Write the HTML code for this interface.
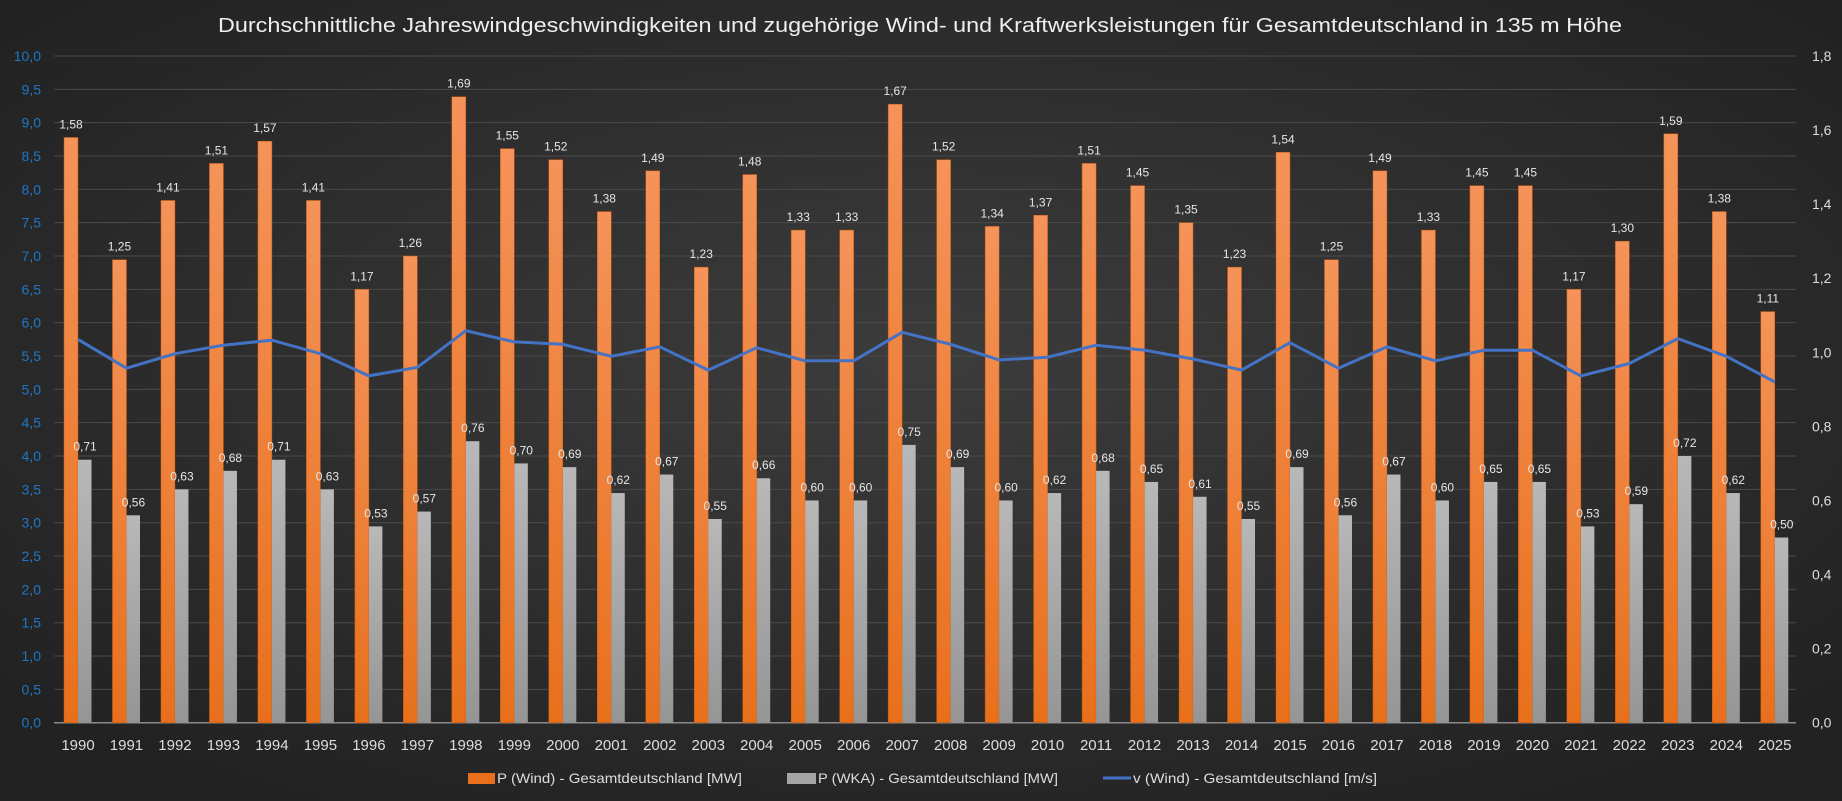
<!DOCTYPE html>
<html><head><meta charset="utf-8"><style>
html,body{margin:0;padding:0;background:#2a2a2a;}
svg{display:block;font-family:"Liberation Sans",sans-serif;}
</style></head><body>
<svg id="c" width="1842" height="801" xmlns="http://www.w3.org/2000/svg">
<defs>
<radialGradient id="bg" cx="50%" cy="45%" r="65%">
<stop offset="0" stop-color="#3c3c3c"/><stop offset="1" stop-color="#222"/>
</radialGradient>
<linearGradient id="og" x1="0" y1="0" x2="0" y2="1"><stop offset="0" stop-color="#f4935a"/><stop offset="1" stop-color="#e8701c"/></linearGradient>
<linearGradient id="gg" x1="0" y1="0" x2="0" y2="1"><stop offset="0" stop-color="#b8b8b8"/><stop offset="1" stop-color="#959595"/></linearGradient>
</defs>
<rect width="1842" height="801" fill="url(#bg)"/>
<g id="g"></g>
</svg>
<script>
const P=[1.58,1.25,1.41,1.51,1.57,1.41,1.17,1.26,1.69,1.55,1.52,1.38,1.49,1.23,1.48,1.33,1.33,1.67,1.52,1.34,1.37,1.51,1.45,1.35,1.23,1.54,1.25,1.49,1.33,1.45,1.45,1.17,1.30,1.59,1.38,1.11];
const W=[0.71,0.56,0.63,0.68,0.71,0.63,0.53,0.57,0.76,0.70,0.69,0.62,0.67,0.55,0.66,0.60,0.60,0.75,0.69,0.60,0.62,0.68,0.65,0.61,0.55,0.69,0.56,0.67,0.60,0.65,0.65,0.53,0.59,0.72,0.62,0.50];
const y0=722.7,u=66.67,L=54,R=1796,st=48.48;
let s='';
const f=v=>v.toFixed(2).replace('.',',');
for(let i=0;i<=20;i++){const y=y0-i*0.5*u;
 s+=`<line x1="${L}" x2="${R}" y1="${y}" y2="${y}" stroke="${i?'#4a4a4a':'#8a8a8a'}" stroke-width="${i?1:1.5}"/>`;
 s+=`<text x="41" y="${y+5}" text-anchor="end" font-size="14" fill="#1f77c4">${(i*0.5).toFixed(1).replace('.',',')}</text>`;}
for(let i=0;i<=9;i++){const y=y0-i*0.2/1.8*10*u;
 s+=`<text x="1812" y="${y+5}" font-size="14" fill="#ddd">${(i*0.2).toFixed(1).replace('.',',')}</text>`;}
let pts=[];
P.forEach((p,i)=>{const x=64+i*st;
 const h=p/1.8*10*u, hw=W[i]/1.8*10*u;
 s+=`<rect x="${x}" y="${y0-h}" width="14" height="${h}" fill="url(#og)" stroke="#c85a10" stroke-width="0.5"/>`;
 s+=`<rect x="${x+14}" y="${y0-hw}" width="13.5" height="${hw}" fill="url(#gg)"/>`;
 s+=`<text x="${x+7}" y="${y0-h-9}" text-anchor="middle" font-size="12" fill="#e6e6e6">${f(p)}</text>`;
 s+=`<text x="${x+21}" y="${y0-hw-9}" text-anchor="middle" font-size="12" fill="#e6e6e6">${f(W[i])}</text>`;
 s+=`<text x="${x+14}" y="750" text-anchor="middle" font-size="15" fill="#ddd">${1990+i}</text>`;
 const v=4.936*Math.cbrt(p); pts.push(`${x+14},${(y0-v*u).toFixed(1)}`);
});
s+=`<polyline points="${pts.join(' ')}" fill="none" stroke="#4472c4" stroke-width="3" stroke-linejoin="round"/>`;
s+=`<text x="218" y="32" font-size="20" fill="#eee" textLength="1404" lengthAdjust="spacingAndGlyphs">Durchschnittliche Jahreswindgeschwindigkeiten und zugehörige Wind- und Kraftwerksleistungen für Gesamtdeutschland in 135 m Höhe</text>`;
s+=`<rect x="468" y="773" width="27" height="11" fill="#e8701c"/><text x="497" y="783" font-size="14" fill="#ddd" textLength="245" lengthAdjust="spacingAndGlyphs">P (Wind) - Gesamtdeutschland [MW]</text>`;
s+=`<rect x="787" y="773" width="29" height="11" fill="#a5a5a5"/><text x="818" y="783" font-size="14" fill="#ddd" textLength="240" lengthAdjust="spacingAndGlyphs">P (WKA) - Gesamtdeutschland [MW]</text>`;
s+=`<line x1="1103" x2="1131" y1="778" y2="778" stroke="#4472c4" stroke-width="3"/><text x="1133" y="783" font-size="14" fill="#ddd" textLength="244" lengthAdjust="spacingAndGlyphs">v (Wind) - Gesamtdeutschland [m/s]</text>`;
document.getElementById('g').innerHTML=s;
</script>
</body></html>
